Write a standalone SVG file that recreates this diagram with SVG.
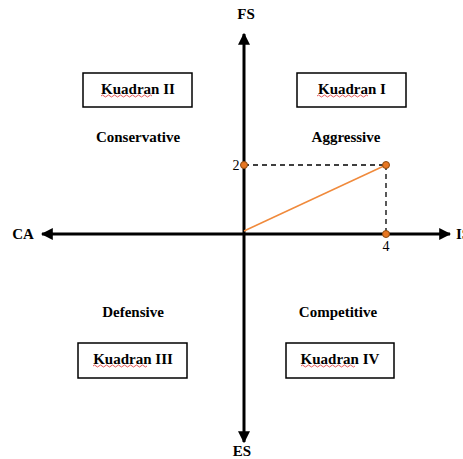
<svg xmlns="http://www.w3.org/2000/svg" width="463" height="459" viewBox="0 0 463 459">
<style>
.t{font-family:"Liberation Serif","Times New Roman",serif;font-weight:bold;font-size:15px;fill:#000;text-anchor:middle}
.n{font-family:"Liberation Serif","Times New Roman",serif;font-size:14px;fill:#000;text-anchor:middle}
.box{fill:#fff;stroke:#000;stroke-width:1.5}
.sq{fill:none;stroke:#e03030;stroke-width:0.8}
.ax{stroke:#000;stroke-width:3;fill:none}
.dash{stroke:#000;stroke-width:1.3;stroke-dasharray:5,4;fill:none}
.dot{fill:#e87722;stroke:#8a4a10;stroke-width:1}
</style>
<defs>
<marker id="ah" viewBox="0 0 10 10" refX="9" refY="5" markerWidth="4" markerHeight="4" orient="auto" markerUnits="strokeWidth">
<path d="M0,0 L10,5 L0,10 Z" fill="#000"/>
</marker>
</defs>
<rect width="463" height="459" fill="#fff"/>
<g id="connectors">
<line class="ax" x1="244" y1="234" x2="244" y2="34" marker-end="url(#ah)"/>
<line class="ax" x1="244" y1="234" x2="244" y2="442" marker-end="url(#ah)"/>
<line class="ax" x1="244" y1="234" x2="42" y2="234" marker-end="url(#ah)"/>
<line class="ax" x1="244" y1="234" x2="450" y2="234" marker-end="url(#ah)"/>
<line class="dash" x1="244" y1="165" x2="386" y2="165"/>
<line class="dash" x1="386" y1="165" x2="386" y2="234"/>
<line x1="244" y1="231" x2="386" y2="165" stroke="#f08a3c" stroke-width="1.5"/>
</g>
<g id="axis-labels">
<text class="t" x="246" y="19">FS</text>
<text class="t" x="242" y="456">ES</text>
<text class="t" x="23" y="239">CA</text>
<text class="t" x="456" y="239" style="text-anchor:start">IS</text>
</g>
<g id="points">
<circle class="dot" cx="244" cy="165" r="3.5"/>
<circle class="dot" cx="386" cy="165" r="3.5"/>
<circle class="dot" cx="386" cy="234" r="3.5"/>
<text class="n" x="236" y="170">2</text>
<text class="n" x="386" y="251">4</text>
</g>
<g id="kuadran-2">
<rect class="box" x="83" y="73" width="109" height="34"/>
<text class="t" x="138" y="94">Kuadran II</text>
<path class="sq" d="M101,96 q1.5,-2 3,0 t3,0 t3,0 t3,0 t3,0 t3,0 t3,0 t3,0 t3,0 t3,0 t3,0 t3,0 t3,0 t3,0 t3,0 t3,0 t3,0"/>
</g>
<g id="kuadran-1">
<rect class="box" x="297" y="73" width="109" height="34"/>
<text class="t" x="352" y="94">Kuadran I</text>
<path class="sq" d="M317,96 q1.5,-2 3,0 t3,0 t3,0 t3,0 t3,0 t3,0 t3,0 t3,0 t3,0 t3,0 t3,0 t3,0 t3,0 t3,0 t3,0 t3,0 t3,0"/>
</g>
<g id="kuadran-3">
<rect class="box" x="78" y="343" width="109" height="35"/>
<text class="t" x="133" y="364">Kuadran III</text>
<path class="sq" d="M93,366 q1.5,-2 3,0 t3,0 t3,0 t3,0 t3,0 t3,0 t3,0 t3,0 t3,0 t3,0 t3,0 t3,0 t3,0 t3,0 t3,0 t3,0 t3,0 t3,0"/>
</g>
<g id="kuadran-4">
<rect class="box" x="286" y="343" width="108" height="35"/>
<text class="t" x="340" y="364">Kuadran IV</text>
<path class="sq" d="M301,366 q1.5,-2 3,0 t3,0 t3,0 t3,0 t3,0 t3,0 t3,0 t3,0 t3,0 t3,0 t3,0 t3,0 t3,0 t3,0 t3,0 t3,0 t3,0 t3,0"/>
</g>
<g id="strategies">
<text class="t" x="138" y="142">Conservative</text>
<text class="t" x="346" y="142">Aggressive</text>
<text class="t" x="133" y="317">Defensive</text>
<text class="t" x="338" y="317">Competitive</text>
</g>
</svg>
